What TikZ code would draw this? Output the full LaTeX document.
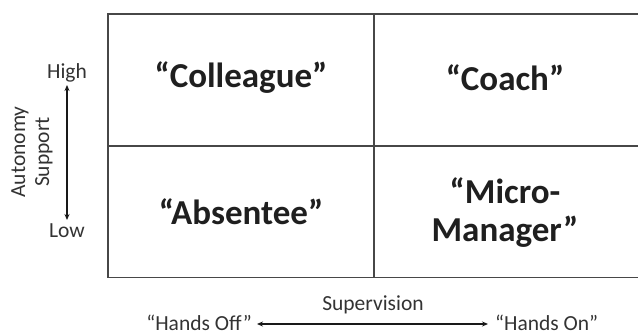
\documentclass[tikz,border=0pt]{standalone}
\usepackage{fontspec}
\setmainfont{Carlito}
\usetikzlibrary{arrows.meta}
\begin{document}
\begin{tikzpicture}[x=1pt,y=-1pt,
  quad/.style={font=\fontsize{35}{38}\selectfont\bfseries, text=black!88, align=center, inner sep=0pt},
  lbl/.style={font=\fontsize{21.5}{24}\selectfont, text=black!80, inner sep=0pt, align=center},
  grid/.style={line width=1.2pt, black!72},
  axis/.style={line width=1.5pt, black!90, {Stealth[length=6pt,width=5pt]}-{Stealth[length=6pt,width=5pt]}}]
\useasboundingbox (0,0) rectangle (638,335);
% matrix lines
\draw[grid] (638,14) -- (108,14) -- (108,277.5) -- (638,277.5);
\draw[grid] (374,14) -- (374,277.5);
\draw[grid] (108,146) -- (638,146);
% quadrant labels
\node[quad] (colleague) at (241,78) {“Colleague”};
\node[quad] (coach) at (505,78) {“Coach”};
\node[quad] (absentee) at (241,212) {“Absentee”};
\node[quad] (micro) at (505,213) {“Micro-\\Manager”};
% vertical axis
\node[lbl, anchor=base] (high) at (67,78) {High};
\node[lbl, anchor=base] (low) at (67,237) {Low};
\coordinate (vtop) at (67,85);
\coordinate (vbot) at (67,220);
\draw[axis] (vtop) -- (vbot);
\node[lbl, rotate=90] (auto) at (32,152) {Autonomy\\Support};
% horizontal axis
\node[lbl, anchor=base] (super) at (373,310) {Supervision};
\node[lbl, anchor=base east] (off) at (252,330) {“Hands Off”};
\node[lbl, anchor=base west] (on) at (495,330) {“Hands On”};
\coordinate (hl) at (257,324);
\coordinate (hr) at (488,324);
\draw[axis] (hl) -- (hr);
\end{tikzpicture}
\end{document}
